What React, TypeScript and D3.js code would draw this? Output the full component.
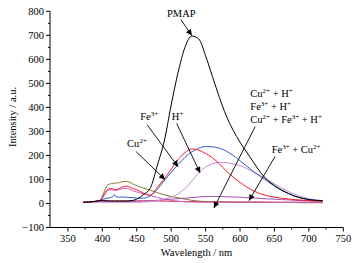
import React from "react";
import * as d3 from "d3";

const wavelengths = [372,380,390,397,402,407,412,416,418,420,425,430,435,440,445,450,460,470,480,490,500,510,520,530,540,550,560,570,580,590,600,610,620,630,640,650,660,670,680,690,700,710,720];

const pmap = [5,6,9,12,12,11,10,10,10,10,10,10,10,11,13,18, 38,66,160,260,410, 545,650,697,685,615, 528,442,365,305,255, 212,170,128,97,75, 57,42,30,22,16, 13,12];
const fe = [5,6,9,13,35,57,62,60,58,58,63,70,72,68,62,57, 43,35,68,103,142, 182,212,227,222,208, 190,165,135,110,88, 68,52,40,32,26, 22,19,16,14,12, 11,10];
const cu = [5,6,9,13,18,22,25,30,37,28,26,27,26,25,24,22, 22,33,60,95,130, 162,192,215,230,237, 236,230,218,200,178, 155,132,112,92,72, 55,42,30,22,16, 13,11];
const hPlus = [5,5,5,5,5,5,5,5,5,5,5,5,5,5,5,5, 6,8,12,18,27, 40,62,93,128,152, 166,171,170,165,158, 145,130,115,99,82, 65,50,37,27,20, 15,12];
const feCu = [5,6,7,8,8,8,8,8,8,8,8,8,8,8,8,9, 10,11,13,15,18, 20,22,25,27,29, 29,29,28,27,26, 24,23,21,19,18, 16,15,13,12,11, 10,9];
const cuH = [5,6,9,14,45,75,82,84,85,85,87,91,92,88,80,74, 64,55,45,36,29, 24,18,13,10,8, 7,6,6,5,5, 5,5,5,4,4, 4,4,4,3,3, 3,3];
const feH = [5,6,9,13,30,52,57,55,55,55,58,62,62,58,52,48, 40,32,25,18,13, 9,7,6,5,5, 5,5,5,5,5, 5,5,5,5,5, 5,5,5,5,5, 5,5];
const cuFeH = [5,6,8,10,11,11,11,11,11,11,11,11,11,11,11,11, 11,11,10,10,9, 9,8,8,7,7, 7,7,6,6,6, 6,6,6,6,5, 5,5,5,5,5, 5,5];

const seriesNames = ["Cu²⁺ + Fe³⁺ + H⁺", "Cu²⁺ + H⁺", "Fe³⁺ + H⁺", "Fe³⁺ + Cu²⁺", "H⁺", "Cu²⁺", "Fe³⁺", "PMAP"];
const seriesValues = [cuFeH, cuH, feH, feCu, hPlus, cu, fe, pmap];
const seriesColors = ["#e8323a", "#8a7a36", "#cc5cc8", "#a24fb4", "#c88ad8", "#2e5cc8", "#f01e28", "#000000"];

const xTicks = [350, 400, 450, 500, 550, 600, 650, 700, 750];
const xMinor = [375, 425, 475, 525, 575, 625, 675, 725];
const yTicks = [-100, 0, 100, 200, 300, 400, 500, 600, 700, 800];
const yMinor = [-50, 50, 150, 250, 350, 450, 550, 650, 750];

// annotations in data coordinates: label pieces, text anchor point, arrow tail, arrow tip
const annotations = [
  { lines: ["PMAP"], at: [494, 776], from: [514, 766], to: [530, 699] },
  { lines: ["Fe^{3+}"], at: [455, 349], from: [465, 328], to: [510, 153] },
  { lines: ["H^{+}"], at: [501, 349], from: [508, 333], to: [542, 127] },
  { lines: ["Cu^{2+}"], at: [436, 237], from: [449, 216], to: [491, 100] },
  { lines: ["Cu^{2+} + H^{+}", "Fe^{3+} + H^{+}", "Cu^{2+} + Fe^{3+} + H^{+}"], at: [615, 443], from: [622, 320], to: [562, -19] },
  { lines: ["Fe^{3+} + Cu^{2+}"], at: [646, 212], from: [651, 196], to: [613, 12] },
];

const FONT = "'Liberation Serif', 'Times New Roman', serif";

function renderRich(s: string) {
  const parts: React.ReactNode[] = [];
  const re = /\^\{([^}]*)\}/g;
  let last = 0;
  let m: RegExpExecArray | null;
  let raised = false;
  let k = 0;
  while ((m = re.exec(s)) !== null) {
    const before = s.slice(last, m.index);
    if (before) {
      parts.push(<tspan key={k++} dy={raised ? 4 : 0}>{before}</tspan>);
      raised = false;
    }
    parts.push(<tspan key={k++} dy={raised ? 0 : -4} fontSize={7}>{m[1]}</tspan>);
    raised = true;
    last = m.index + m[0].length;
  }
  const rest = s.slice(last);
  if (rest) parts.push(<tspan key={k++} dy={raised ? 4 : 0}>{rest}</tspan>);
  return parts;
}

export default function App() {
  const W = 361, H = 263;
  const x = d3.scaleLinear().domain([324, 750]).range([50, 343.3]);
  const y = d3.scaleLinear().domain([-100, 800]).range([227.5, 11.3]);
  const line = d3.line<number>()
    .x((_, i) => x(wavelengths[i]))
    .y((d) => y(d))
    .curve(d3.curveMonotoneX);
  const fmt = d3.format("d");
  const lineH = 13;

  return (
    <svg width={W} height={H} style={{ position: "absolute", left: 0, top: 0, background: "#fff" }} fontFamily={FONT}>
      <defs>
        <marker id="arr" viewBox="0 0 10 10" refX="10" refY="5" markerWidth="8" markerHeight="6" markerUnits="userSpaceOnUse" orient="auto">
          <path d="M0,0 L10,5 L0,10 z" fill="#000" />
        </marker>
      </defs>
      {seriesValues.map((vals, i) => (
        <path key={seriesNames[i]} d={line(vals) || ""} fill="none" stroke={seriesColors[i]} strokeWidth={1} />
      ))}
      {/* axes */}
      <line x1={x(324)} x2={x(750)} y1={y(-100)} y2={y(-100)} stroke="#000" strokeWidth={1} />
      <line x1={x(324)} x2={x(324)} y1={y(-100)} y2={y(800)} stroke="#000" strokeWidth={1} />
      {xTicks.map((t) => (
        <g key={"xt" + t}>
          <line x1={x(t)} x2={x(t)} y1={y(-100)} y2={y(-100) + 4} stroke="#000" />
          <text x={x(t)} y={242} textAnchor="middle" fontSize={10.5}>{fmt(t)}</text>
        </g>
      ))}
      {xMinor.map((t) => (
        <line key={"xm" + t} x1={x(t)} x2={x(t)} y1={y(-100)} y2={y(-100) + 2} stroke="#000" />
      ))}
      {yTicks.map((t) => (
        <g key={"yt" + t}>
          <line x1={x(324) - 4} x2={x(324)} y1={y(t)} y2={y(t)} stroke="#000" />
          <text x={44} y={y(t) + 3.6} textAnchor="end" fontSize={10.5}>{fmt(t)}</text>
        </g>
      ))}
      {yMinor.map((t) => (
        <line key={"ym" + t} x1={x(324) - 2} x2={x(324)} y1={y(t)} y2={y(t)} stroke="#000" />
      ))}
      <text x={196.5} y={256} textAnchor="middle" fontSize={10.5}>Wavelength / nm</text>
      <text transform={`translate(16,117) rotate(-90)`} textAnchor="middle" fontSize={10.5}>Intensity / a.u.</text>
      {annotations.map((a, i) => (
        <g key={"an" + i}>
          {a.lines.map((l, j) => (
            <text key={j} x={x(a.at[0])} y={y(a.at[1]) + j * lineH} fontSize={10.5}>{renderRich(l)}</text>
          ))}
          <line x1={x(a.from[0])} y1={y(a.from[1])} x2={x(a.to[0])} y2={y(a.to[1])} stroke="#000" strokeWidth={0.9} markerEnd="url(#arr)" />
        </g>
      ))}
    </svg>
  );
}
